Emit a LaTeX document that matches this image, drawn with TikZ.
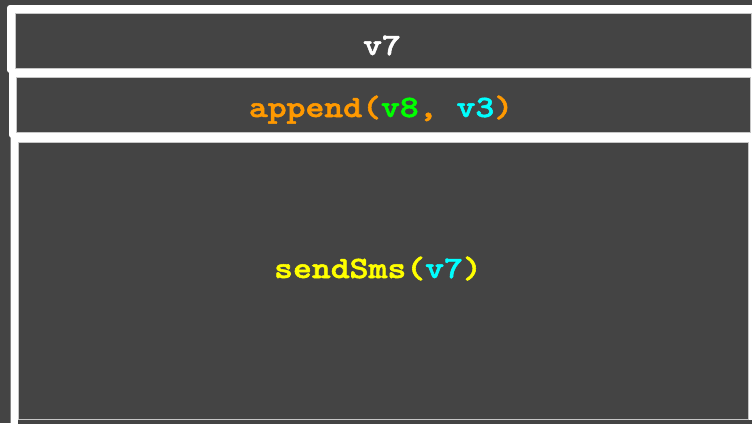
\documentclass[tikz,border=0pt]{standalone}
\usepackage{fontspec}
\newfontfamily\codefam{lmmonolt10-bold}[Extension=.otf, FakeBold=1.6]
\definecolor{bg}{HTML}{444444}
\definecolor{codeorange}{HTML}{FF9900}
\definecolor{codegreen}{HTML}{00FF00}
\definecolor{codecyan}{HTML}{00FFFF}
\definecolor{codeyellow}{HTML}{FFFF00}
\newcommand{\codefont}{\fontsize{31}{31}\codefam}
\newcommand{\code}[1]{\scalebox{1.16}[1]{\codefont #1}}
\begin{document}
\begin{tikzpicture}[x=1pt,y=-1pt,
  panel/.style={fill=bg, draw=white!70!bg, line width=0.6pt},
  frame/.style={fill=white, rounded corners=3pt},
  label/.style={inner sep=0pt, anchor=base}]
  % page background
  \fill[bg] (0,0) rectangle (752,423);
  \useasboundingbox (0,0) rectangle (752,423);
  % nested white frames
  \fill[frame] (7,5) rectangle (760,73);
  \fill[frame] (9,70) rectangle (760,138);
  \fill[frame] (10.5,135) rectangle (760,430);
  \fill[bg] (18,420) rectangle (760,430);
  % panels
  \fill[panel] (15,13) rectangle (751,68);
  \fill[panel] (16,77) rectangle (750,132);
  \fill[panel] (18,142) rectangle (748,419.5);
  % texts
  \node[label] (head) at (382,55) {\code{\textcolor{white}{v7}}};
  \node[label] (call) at (381,117) {\code{\textcolor{codeorange}{append(}\textcolor{codegreen}{v8}\textcolor{codeorange}{, }\textcolor{codecyan}{v3}\textcolor{codeorange}{)}}};
  \node[label] (body) at (378,278) {\code{\textcolor{codeyellow}{sendSms(}\textcolor{codecyan}{v7}\textcolor{codeyellow}{)}}};
\end{tikzpicture}
\end{document}
